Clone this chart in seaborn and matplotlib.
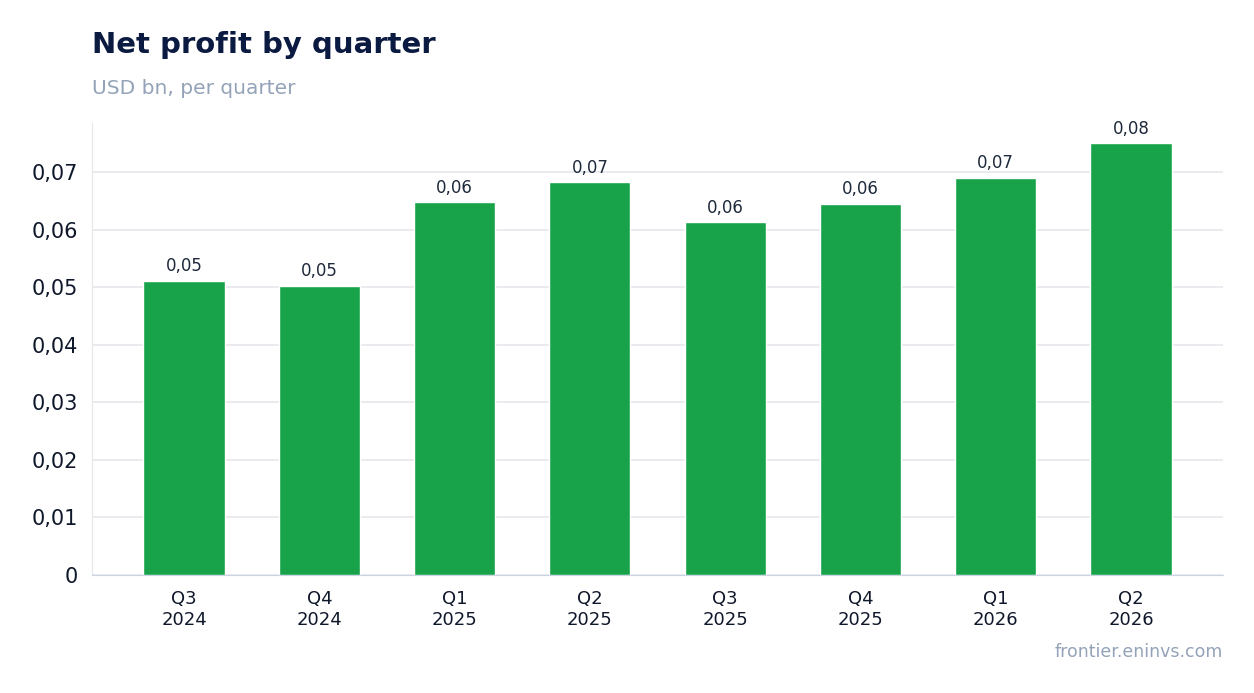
import pandas as pd
import seaborn as sns
import matplotlib.pyplot as plt
from matplotlib.ticker import FuncFormatter

quarters = ["Q3\n2024", "Q4\n2024", "Q1\n2025", "Q2\n2025", "Q3\n2025", "Q4\n2025", "Q1\n2026", "Q2\n2026"]
net_profit = [0.0512, 0.0503, 0.0648, 0.0683, 0.0613, 0.0646, 0.0691, 0.0751]

df = pd.DataFrame({"quarter": quarters, "profit": net_profit})

sns.set_style("white")
plt.rcParams['font.family'] = ['DejaVu Sans']

fig, ax = plt.subplots(figsize=(12.54, 6.93), dpi=100)
fig.subplots_adjust(left=0.0734, right=0.9753, top=0.8225, bottom=0.1703)

sns.barplot(data=df, x="quarter", y="profit", color="#18a34a", width=0.6, saturation=1, ax=ax, zorder=3)

ax.set_xlim(-0.68, len(quarters) - 0.32)
ax.set_ylim(0, 0.0786)
ax.set_yticks([0, 0.01, 0.02, 0.03, 0.04, 0.05, 0.06, 0.07])
ax.yaxis.set_major_formatter(FuncFormatter(lambda v, p: "0" if v == 0 else f"{v:.2f}".replace(".", ",")))
ax.grid(axis="y", color="#e5e7eb", linewidth=1.2, zorder=0)
ax.set_xlabel("")
ax.set_ylabel("")

for s in ["top", "right"]:
    ax.spines[s].set_visible(False)
ax.spines["left"].set_color("#e5e7eb")
ax.spines["bottom"].set_color("#cbd5e1")
ax.tick_params(axis="y", labelsize=15, colors="#0f172a", length=6, width=1.2, pad=4)
ax.tick_params(axis="x", labelsize=13, colors="#0f172a", length=5, width=1.2, pad=6)
ax.tick_params(axis="both", color="#334155")

for bar, v in zip(ax.patches, net_profit):
    ax.annotate(f"{v:.2f}".replace(".", ","), (bar.get_x() + bar.get_width() / 2, bar.get_height()),
                xytext=(0, 4), textcoords="offset points", ha="center", va="bottom",
                fontsize=12, color="#1e293b")

fig.text(0.0734, 0.935, "Net profit by quarter", fontsize=21, fontweight="bold", color="#0b1a40", va="center")
fig.text(0.0734, 0.873, "USD bn, per quarter", fontsize=14.5, color="#94a3b8", va="center")
fig.text(0.9753, 0.059, "frontier.eninvs.com", fontsize=12.5, color="#94a3b8", ha="right", va="center")

plt.savefig("out.png", dpi=100)
